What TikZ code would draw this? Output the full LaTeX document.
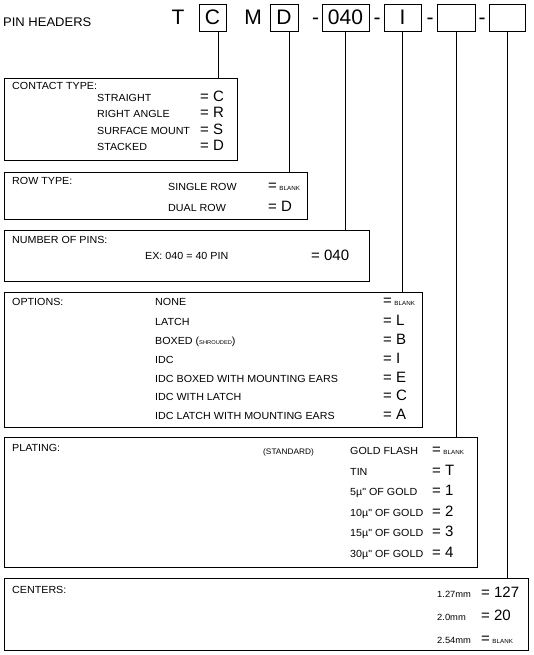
\documentclass[tikz,border=0pt]{standalone}
\usepackage{fontspec}
\setmainfont{Liberation Sans}
\newfontfamily\labfont[FakeStretch=1.04]{Liberation Sans}
\usetikzlibrary{calc}
\tikzset{
  panel/.style={draw, line width=1.1pt, inner sep=0pt, anchor=north west},
  lab/.style={anchor=base west, inner sep=0pt, font=\labfont\fontsize{10.3}{11}\selectfont},
  lbs/.style={anchor=base west, inner sep=0pt, font=\labfont\fontsize{9}{10}\selectfont},
  small/.style={anchor=base west, inner sep=0pt, font=\labfont\fontsize{8}{9}\selectfont},
  val/.style={anchor=base west, inner sep=0pt, font=\fontsize{15}{16}\selectfont},
  big/.style={anchor=base, inner sep=0pt, font=\fontsize{21}{22}\selectfont},
  codebox/.style={draw, line width=0.9pt, minimum height=27pt, inner sep=0pt, anchor=north},
  link/.style={line width=0.8pt},
}
\newcommand{\blnk}{{\labfont\fontsize{6}{7}\selectfont BLANK}}
\newcommand{\shr}{{\labfont\fontsize{5.5}{6}\selectfont SHROUDED}}
\begin{document}
\begin{tikzpicture}[x=1pt,y=-1pt]
\useasboundingbox (0,0) rectangle (533,655);

% header line
\node[anchor=base west, inner sep=0pt, font=\labfont\fontsize{12.5}{14}\selectfont] (title) at (3,26.5) {PIN HEADERS};
\node[big] (lT) at (178,24.5) {T};
\node[codebox, minimum width=27pt] (cC) at (212.5,4) {};
\node[big] at (212.5,24.5) {C};
\node[big] (lM) at (253,24.5) {M};
\node[codebox, minimum width=28pt] (cD) at (284,4) {};
\node[big] at (284,24.5) {D};
\node[big] (d1) at (315.5,24.5) {-};
\node[codebox, minimum width=47pt] (cN) at (345.5,4) {};
\node[big] at (345.5,24.5) {040};
\node[big] (d2) at (377,24.5) {-};
\node[codebox, minimum width=37pt] (cI) at (402.5,4) {};
\node[big] at (402.5,24.5) {I};
\node[big] (d3) at (430,24.5) {-};
\node[codebox, minimum width=38pt] (cP) at (456,4) {};
\node[big] (d4) at (482,24.5) {-};
\node[codebox, minimum width=36pt] (cX) at (507,4) {};

% panels
\node[panel, minimum width=233pt, minimum height=82pt] (contact) at (4,78) {};
\node[panel, minimum width=303pt, minimum height=47pt] (row) at (4,172) {};
\node[panel, minimum width=365pt, minimum height=51pt] (pins) at (4,230) {};
\node[panel, minimum width=418pt, minimum height=135pt] (opt) at (4,292) {};
\node[panel, minimum width=473pt, minimum height=130pt] (plat) at (4,437) {};
\node[panel, minimum width=524pt, minimum height=72pt] (cent) at (4,578) {};

% connectors
\draw[link] ([xshift=5.5pt]cC.south) -- ([xshift=5.5pt]cC.south |- contact.north);
\draw[link] ([xshift=5pt]cD.south) -- ([xshift=5pt]cD.south |- row.north);
\draw[link] (cN.south) -- (cN.south |- pins.north);
\draw[link] (cI.south) -- (cI.south |- opt.north);
\draw[link] (cP.south) -- (cP.south |- plat.north);
\draw[link] (cX.south) -- (cX.south |- cent.north);

% contact type
\node[lab] at (12,89.5) {CONTACT TYPE:};
\node[lab] at (97,101.5) {STRAIGHT};
\node[lab] at (97,118) {RIGHT ANGLE};
\node[lab] at (97,134.5) {SURFACE MOUNT};
\node[lab] at (97,151) {STACKED};
\node[val] at (200,101.5) {= C};
\node[val] at (200,118) {= R};
\node[val] at (200,134.5) {= S};
\node[val] at (200,151) {= D};

% row type
\node[lab] at (12,184.5) {ROW TYPE:};
\node[lab] at (168,190.5) {SINGLE ROW};
\node[lab] at (168,211.5) {DUAL ROW};
\node[val] at (268,190.5) {=\,\blnk};
\node[val] at (268,211.5) {= D};

% number of pins
\node[lab] at (12,243.5) {NUMBER OF PINS:};
\node[lab] at (145,259.5) {EX: 040 = 40 PIN};
\node[val] at (311,260) {= 040};

% options
\node[lab] at (12,305.5) {OPTIONS:};
\node[lab] at (155,305.5) {NONE};
\node[lab] at (155,325.5) {LATCH};
\node[lab] at (155,344.5) {BOXED ({\shr})};
\node[lab] at (155,363.5) {IDC};
\node[lab] at (155,382.5) {IDC BOXED WITH MOUNTING EARS};
\node[lab] at (155,400.5) {IDC WITH LATCH};
\node[lab] at (155,419.5) {IDC LATCH WITH MOUNTING EARS};
\node[val] at (383,305.5) {=\,\blnk};
\node[val] at (383,325.5) {= L};
\node[val] at (383,344.5) {= B};
\node[val] at (383,363.5) {= I};
\node[val] at (383,382.5) {= E};
\node[val] at (383,400.5) {= C};
\node[val] at (383,419.5) {= A};

% plating
\node[lab] at (12,451.5) {PLATING:};
\node[small] at (263,454.5) {(STANDARD)};
\node[lab] at (350,454.5) {GOLD FLASH};
\node[lab] at (350,475.5) {TIN};
\node[lab] at (350,495.5) {5µ" OF GOLD};
\node[lab] at (350,516.5) {10µ" OF GOLD};
\node[lab] at (350,536.5) {15µ" OF GOLD};
\node[lab] at (350,557.5) {30µ" OF GOLD};
\node[val] at (432,454.5) {=\,\blnk};
\node[val] at (432,475.5) {= T};
\node[val] at (432,495.5) {= 1};
\node[val] at (432,516.5) {= 2};
\node[val] at (432,536.5) {= 3};
\node[val] at (432,557.5) {= 4};

% centers
\node[lab] at (12,593.5) {CENTERS:};
\node[lbs] at (437,597.5) {1.27mm};
\node[lbs] at (437,620.5) {2.0mm};
\node[lbs] at (437,643.5) {2.54mm};
\node[val] at (481,597.5) {= 127};
\node[val] at (481,620.5) {= 20};
\node[val] at (481,643.5) {=\,\blnk};
\end{tikzpicture}
\end{document}
